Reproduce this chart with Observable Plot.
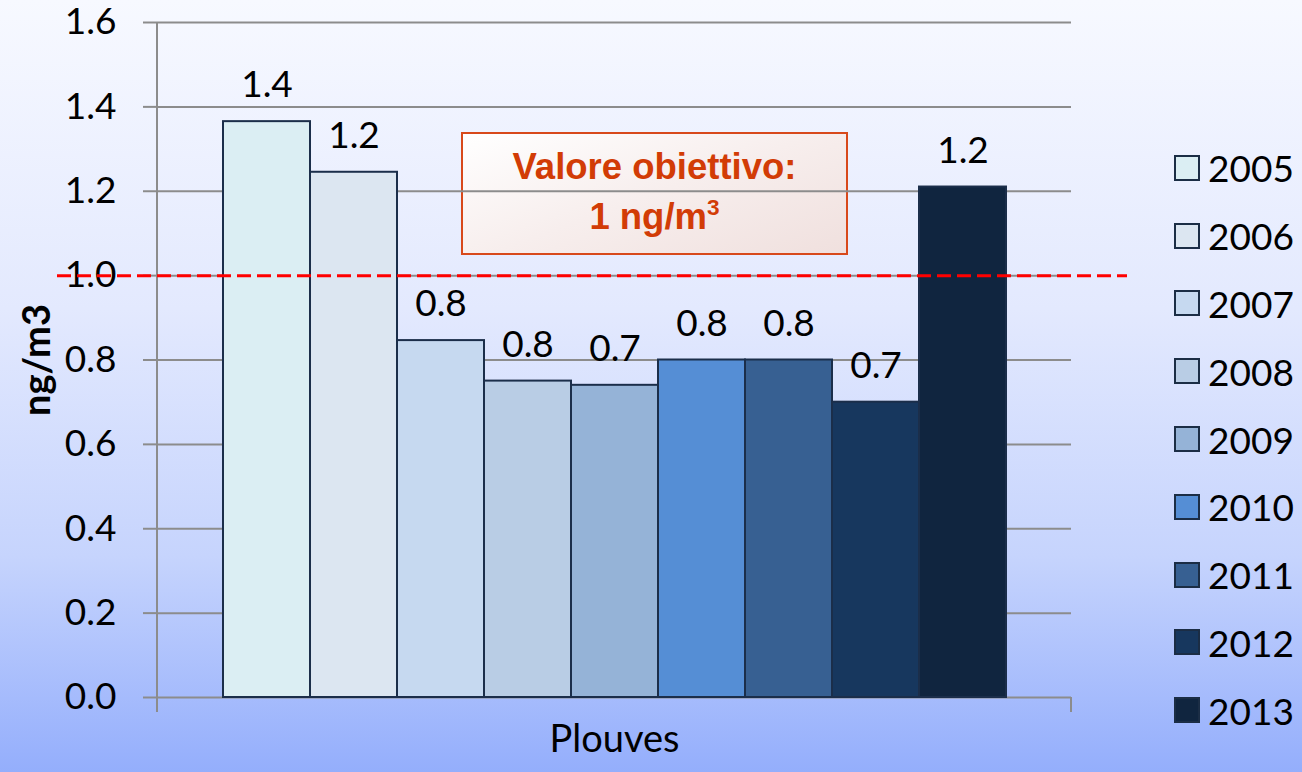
<!DOCTYPE html>
<html>
<head>
<meta charset="utf-8">
<script src="https://cdn.jsdelivr.net/npm/d3@7"></script>
<script src="https://cdn.jsdelivr.net/npm/@observablehq/plot@0.6"></script>
<style>
html, body { margin: 0; padding: 0; }
#wrap {
  position: relative; width: 1302px; height: 772px; overflow: hidden;
  background: linear-gradient(to bottom, #f7f9ff 0%, #e3e9fe 40%, #c6d4fd 72%, #94aefc 100%);
  font-family: Lato, sans-serif;
}
#note {
  position: absolute; left: 461px; top: 132px; width: 383px; height: 119px;
  border: 2px solid #d8491b;
  background: linear-gradient(160deg, #ffffff 0%, #f7eeed 50%, #f0e0de 100%);
  color: #d23c06; font-family: "Liberation Sans", Arial, sans-serif; font-weight: bold;
  font-size: 36.5px; text-align: center; box-sizing: content-box;
}
#note .l1 { position: absolute; left: 0; right: 0; top: 8px; line-height: 50px; }
#note .l2 { position: absolute; left: 0; right: 0; top: 58px; line-height: 50px; }
#note sup { font-size: 0.62em; vertical-align: baseline; position: relative; top: -0.6em; }
#chart { position: absolute; left: 0; top: 0; }
#legend { position: absolute; left: 1175px; top: 134px; }
#legend .lg-swatches { font-size: 37px !important; font-family: Lato, sans-serif !important; margin: 0 !important; color: #000; columns: auto !important; }
#legend .lg-swatch { height: 67.8px; display: flex; align-items: center; margin: 0 !important; padding: 0 !important; }
#legend .lg-swatch > svg { overflow: visible; margin-right: 9px !important; }
#legend .lg-swatch > svg rect { stroke: #1b2d45; stroke-width: 2px; }
#legend .lg-swatch > span { overflow: visible !important; max-width: none !important; }
</style>
</head>
<body>
<div id="wrap">
  <div id="note"><div class="l1">Valore obiettivo:</div><div class="l2">1 ng/m<sup>3</sup></div></div>
  <div id="chart"></div>
  <div id="legend"></div>
</div>
<script>
const years = ["2005", "2006", "2007", "2008", "2009", "2010", "2011", "2012", "2013"];
const values = [1.365, 1.245, 0.846, 0.75, 0.74, 0.80, 0.80, 0.70, 1.21];
const labels = ["1.4", "1.2", "0.8", "0.8", "0.7", "0.8", "0.8", "0.7", "1.2"];
const colors = ["#dbeef3", "#dce6f1", "#c6d9f0", "#b9cde5", "#95b3d7", "#558ed5", "#376092", "#17375e", "#10253f"];
const yTicks = [0, 0.2, 0.4, 0.6, 0.8, 1.0, 1.2, 1.4, 1.6];
const target = 1.0;
const xTitle = "Plouves";
const yTitle = "ng/m3";

const data = years.map((year, i) => ({year, value: values[i], label: labels[i]}));

const axisEnds = (index, scales, values, dims) => {
  const g = d3.create("svg:g").attr("stroke", "#8c8c8c").attr("stroke-width", 2);
  const x0 = dims.marginLeft, x1 = dims.width - dims.marginRight;
  const yt = dims.marginTop, yb = dims.height - dims.marginBottom;
  g.append("line").attr("x1", x0).attr("x2", x0).attr("y1", yt).attr("y2", yb + 15);
  g.append("line").attr("x1", x1).attr("x2", x1).attr("y1", yb).attr("y2", yb + 15);
  return g.node();
};

const chart = Plot.plot({
  width: 1302, height: 772,
  marginLeft: 157, marginRight: 231, marginTop: 22, marginBottom: 75,
  style: {background: "transparent", fontFamily: "Lato, sans-serif", fontSize: "37px", color: "#000"},
  x: {domain: years, paddingInner: 0, paddingOuter: 0.74, axis: null},
  y: {domain: [0, 1.6]},
  color: {domain: years, range: colors},
  marks: [
    Plot.gridY(yTicks, {stroke: "#8c8c8c", strokeOpacity: 1, strokeWidth: 2}),
    Plot.axisY(yTicks, {tickSize: 14, tickPadding: 27, stroke: "#8c8c8c", strokeWidth: 2, fill: "#000",
      fontSize: 37, tickFormat: d => d.toFixed(1), label: null}),
    axisEnds,
    Plot.barY(data, {x: "year", y: "value", fill: "year", stroke: "#1b2e4a", strokeWidth: 2}),
    Plot.text(data, {x: "year", y: "value", text: "label", dy: -36, fontSize: 37, fill: "#000"}),
    Plot.ruleY([target], {stroke: "#ff0000", strokeWidth: 3, strokeDasharray: "14,6", insetLeft: -100, insetRight: -56}),
    Plot.text([yTitle], {frameAnchor: "left", textAnchor: "middle", rotate: -90, dx: -120, fontSize: 38, fontWeight: "bold", fill: "#000"}),
    Plot.text([xTitle], {frameAnchor: "bottom", dy: 54, fontSize: 38, fill: "#000"})
  ]
});
document.getElementById("chart").appendChild(chart);

const legend = chart.legend("color", {legend: "swatches", columns: 1, swatchSize: 24, className: "lg"});
document.getElementById("legend").appendChild(legend);
</script>
</body>
</html>
